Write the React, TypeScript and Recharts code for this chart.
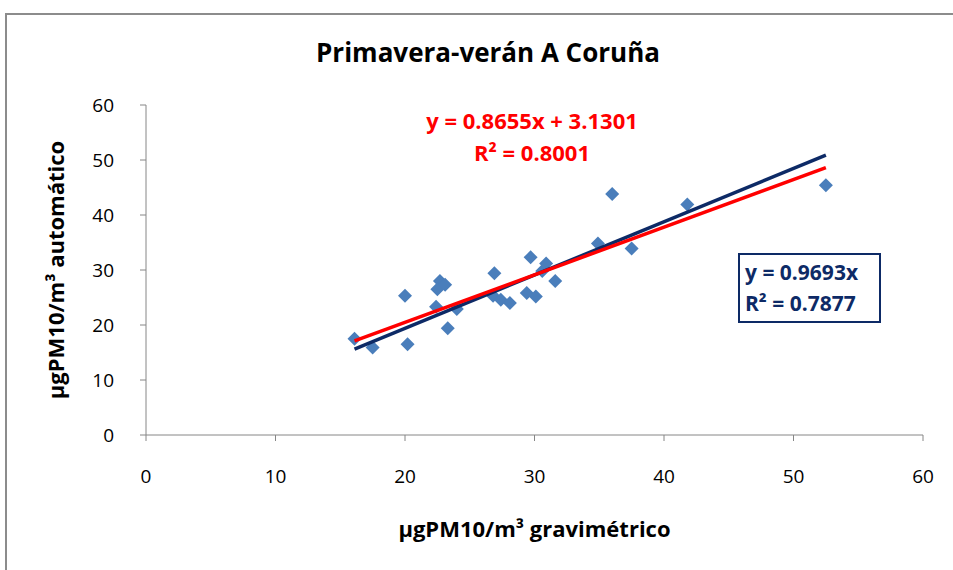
import { Scatter, ScatterChart, XAxis, YAxis, Label } from "recharts";

// measured points (gravimétrico vs automático)
const gravimetrico = [16.1, 17.5, 20.0, 20.2, 22.4, 22.7, 22.5, 23.1, 23.3, 24.0, 26.9, 26.8, 27.4, 28.1, 29.4, 29.7, 30.1, 30.6, 30.9, 31.6, 34.9, 36.0, 37.5, 41.8, 52.5];
const automatico = [17.5, 15.9, 25.3, 16.5, 23.3, 28.0, 26.5, 27.3, 19.4, 22.9, 29.4, 25.3, 24.6, 24.0, 25.8, 32.3, 25.2, 29.8, 31.2, 28.0, 34.8, 43.8, 33.9, 41.9, 45.4];

// trend line endpoints
const trendX = [16.1, 52.5];
const linearY = [17.1, 48.6]; // y = 0.8655x + 3.1301
const originY = [15.6, 50.9]; // y = 0.9693x

const xTicks = [0, 10, 20, 30, 40, 50, 60];
const yTicks = [0, 10, 20, 30, 40, 50, 60];

const points = gravimetrico.map((x, i) => ({ x, y: automatico[i] }));
const linearLine = trendX.map((x, i) => ({ x, y: linearY[i] }));
const originLine = trendX.map((x, i) => ({ x, y: originY[i] }));

const font = "'Open Sans', 'Noto Sans', sans-serif";

function Diamond(props: any) {
  const { cx, cy } = props;
  const r = 7;
  return (
    <polygon
      points={`${cx},${cy - r} ${cx + r},${cy} ${cx},${cy + r} ${cx - r},${cy}`}
      fill="#4a7ebb"
    />
  );
}

export default function App() {
  return (
    <div style={{ position: "absolute", left: 0, top: 0, width: 953, height: 570, overflow: "hidden", background: "#fff", fontFamily: font }}>
      <div style={{ position: "absolute", left: 5, top: 13, width: 1200, height: 1200, border: "2px solid #8c8c8c" }} />
      <div style={{ position: "absolute", left: 0, width: 976, top: 34, textAlign: "center", fontSize: 26, fontWeight: 700, color: "#000" }}>
        Primavera-verán A Coruña
      </div>
      <ScatterChart width={953} height={570} margin={{ top: 105, right: 30, bottom: 105, left: 86 }} style={{ position: "absolute", left: 0, top: 0 }}>
        <XAxis
          type="number"
          dataKey="x"
          domain={[0, 60]}
          ticks={xTicks}
          stroke="#868686"
          tick={{ fill: "#000", fontSize: 19, fontFamily: font }}
          tickSize={6}
          tickMargin={29}
          height={30}
        >
          <Label value="µgPM10/m³ gravimétrico" position="insideBottom" offset={-72} style={{ fill: "#000", fontSize: 22, fontWeight: 700, fontFamily: font }} />
        </XAxis>
        <YAxis
          type="number"
          dataKey="y"
          domain={[0, 60]}
          ticks={yTicks}
          stroke="#868686"
          tick={{ fill: "#000", fontSize: 19, fontFamily: font }}
          tickSize={6}
          tickMargin={26}
          width={60}
        >
          <Label value="µgPM10/m³ automático" angle={-90} position="insideLeft" offset={-30} style={{ textAnchor: "middle", fill: "#000", fontSize: 22, fontWeight: 700, fontFamily: font }} />
        </YAxis>
        <Scatter data={points} shape={<Diamond />} isAnimationActive={false} />
        <Scatter data={originLine} line={{ stroke: "#0d2a66", strokeWidth: 3.5 }} shape={() => null} isAnimationActive={false} />
        <Scatter data={linearLine} line={{ stroke: "#ff0000", strokeWidth: 3.5 }} shape={() => null} isAnimationActive={false} />
      </ScatterChart>
      <div style={{ position: "absolute", left: 382, width: 300, top: 104, textAlign: "center", fontSize: 22, fontWeight: 700, color: "#ff0000", lineHeight: "32px" }}>
        <div>y = 0.8655x + 3.1301</div>
        <div>R² = 0.8001</div>
      </div>
      <div style={{ position: "absolute", left: 738, top: 253, width: 143, height: 70, border: "2px solid #0d2a66", color: "#0d2a66", fontSize: 21, fontWeight: 700, lineHeight: "31px", paddingTop: 2, paddingLeft: 5, boxSizing: "border-box", background: "#fff" }}>
        <div>y = 0.9693x</div>
        <div>R² = 0.7877</div>
      </div>
    </div>
  );
}
